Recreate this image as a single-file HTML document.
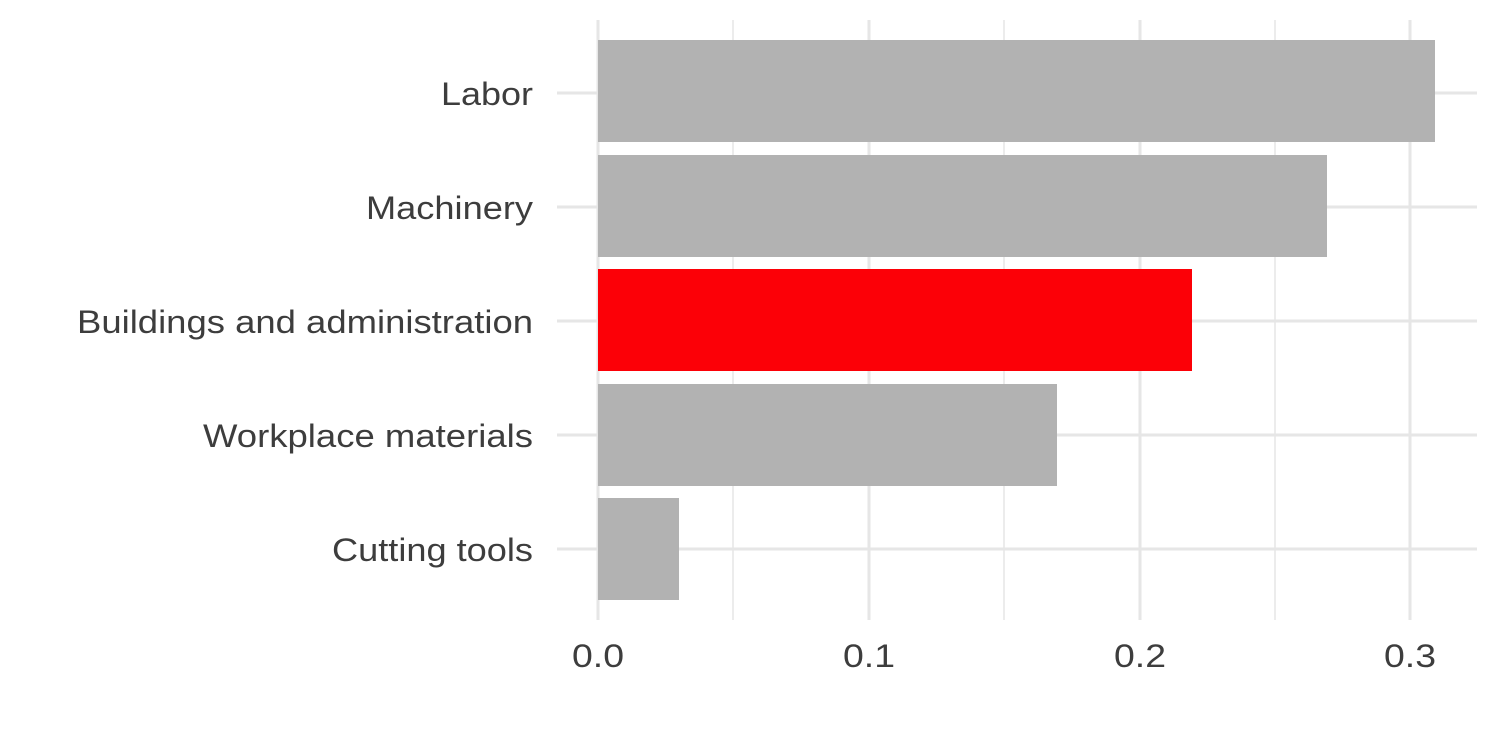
<!DOCTYPE html>
<html><head><style>html,body{margin:0;padding:0;background:#fff}</style></head><body>
<svg width="1500" height="750" xmlns="http://www.w3.org/2000/svg" font-family="Liberation Sans, Arial, sans-serif">
<rect width="1500" height="750" fill="#fff"/>
<g stroke="#e6e6e6" stroke-width="1.5">
<line x1="733" y1="20" x2="733" y2="620"/><line x1="1004" y1="20" x2="1004" y2="620"/><line x1="1275" y1="20" x2="1275" y2="620"/>
</g>
<g stroke="#e6e6e6" stroke-width="3">
<line x1="598" y1="20" x2="598" y2="620"/><line x1="869" y1="20" x2="869" y2="620"/><line x1="1140" y1="20" x2="1140" y2="620"/><line x1="1410" y1="20" x2="1410" y2="620"/>
<line x1="557" y1="93" x2="1477" y2="93"/><line x1="557" y1="207" x2="1477" y2="207"/><line x1="557" y1="321" x2="1477" y2="321"/><line x1="557" y1="435" x2="1477" y2="435"/><line x1="557" y1="549" x2="1477" y2="549"/>
</g>
<rect x="598" y="40" width="837" height="102" fill="#b2b2b2"/>
<rect x="598" y="155" width="729" height="102" fill="#b2b2b2"/>
<rect x="598" y="269" width="594" height="102" fill="#fc0007"/>
<rect x="598" y="384" width="459" height="102" fill="#b2b2b2"/>
<rect x="598" y="498" width="81" height="102" fill="#b2b2b2"/>
<g fill="#3d3d3d" font-size="32" text-anchor="end" lengthAdjust="spacingAndGlyphs">
<text x="533" y="105" textLength="92" lengthAdjust="spacingAndGlyphs">Labor</text>
<text x="533" y="219" textLength="167" lengthAdjust="spacingAndGlyphs">Machinery</text>
<text x="533" y="333" textLength="456" lengthAdjust="spacingAndGlyphs">Buildings and administration</text>
<text x="533" y="447" textLength="330" lengthAdjust="spacingAndGlyphs">Workplace materials</text>
<text x="533" y="561" textLength="201" lengthAdjust="spacingAndGlyphs">Cutting tools</text>
</g>
<g fill="#3d3d3d" font-size="32" text-anchor="middle">
<text x="598" y="667" textLength="52" lengthAdjust="spacingAndGlyphs">0.0</text><text x="869" y="667" textLength="52" lengthAdjust="spacingAndGlyphs">0.1</text><text x="1140" y="667" textLength="52" lengthAdjust="spacingAndGlyphs">0.2</text><text x="1410" y="667" textLength="52" lengthAdjust="spacingAndGlyphs">0.3</text>
</g>
</svg>
</body></html>
